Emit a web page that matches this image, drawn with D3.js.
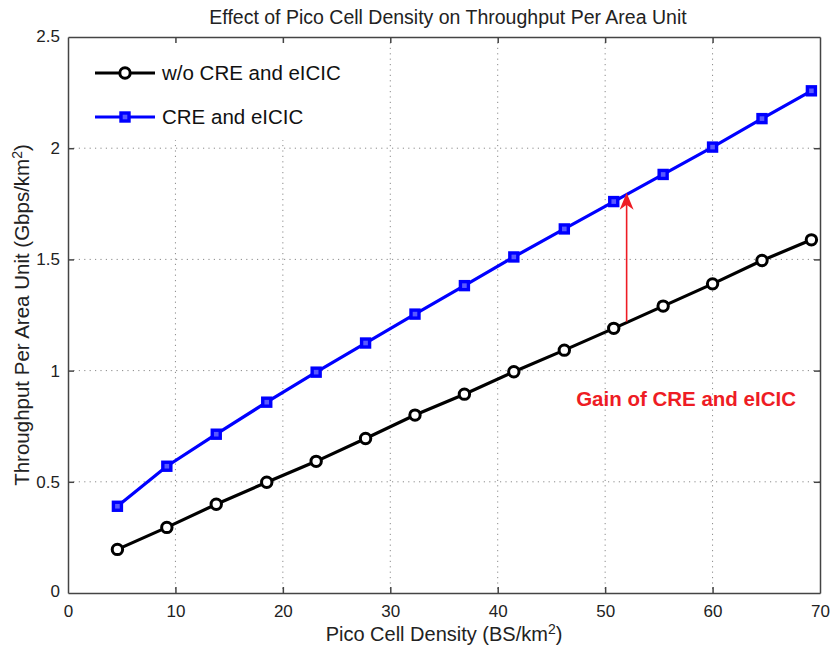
<!DOCTYPE html>
<html>
<head>
<meta charset="utf-8">
<script src="https://cdn.jsdelivr.net/npm/d3@7"></script>
<style>
  html, body { margin: 0; padding: 0; background: #fff; }
  svg { display: block; font-family: "Liberation Sans", Arial, Helvetica, sans-serif; }
</style>
</head>
<body>
<svg id="chart" width="831" height="662"></svg>
<script>
// ---- data ----
const density = [4.6, 9.2, 13.8, 18.5, 23.1, 27.7, 32.3, 36.9, 41.5, 46.2, 50.8, 55.4, 60.0, 64.6, 69.2];
const withoutCRE = [0.196, 0.295, 0.399, 0.498, 0.592, 0.695, 0.80, 0.894, 0.995, 1.092, 1.19, 1.29, 1.39, 1.495, 1.588];
const withCRE = [0.39, 0.57, 0.714, 0.858, 0.993, 1.124, 1.254, 1.382, 1.511, 1.637, 1.76, 1.882, 2.005, 2.133, 2.258];
const xTicks = [0, 10, 20, 30, 40, 50, 60, 70];
const yTicks = [0, 0.5, 1, 1.5, 2, 2.5];
const yTickLabels = ["0", "0.5", "1", "1.5", "2", "2.5"];
const seriesNames = ["w/o CRE and eICIC", "CRE and eICIC"];
const gainArrow = {x: 52, from: 1.22, to: 1.80};
const gainLabel = {x: 47.3, y: 0.84, text: "Gain of CRE and eICIC"};

// ---- layout ----
const W = 831, H = 662;
const m = {left: 68, right: 11, top: 37, bottom: 69};
const iw = W - m.left - m.right, ih = H - m.top - m.bottom;

const svg = d3.select("#chart");
const g = svg.append("g").attr("transform", `translate(${m.left},${m.top})`);

const x = d3.scaleLinear().domain([0, 70]).range([0, iw]);
const y = d3.scaleLinear().domain([0, 2.5]).range([ih, 0]);

// grid
const gridColor = "#8a8a8a";
g.append("g").selectAll("line").data(xTicks.filter(t => t > 0 && t < 70)).join("line")
  .attr("x1", d => x(d)).attr("x2", d => x(d)).attr("y1", 0).attr("y2", ih)
  .attr("stroke", gridColor).attr("stroke-width", 1).attr("stroke-dasharray", "1.2,4.2");
g.append("g").selectAll("line").data(yTicks.filter(t => t > 0 && t < 2.5)).join("line")
  .attr("y1", d => y(d)).attr("y2", d => y(d)).attr("x1", 0).attr("x2", iw)
  .attr("stroke", gridColor).attr("stroke-width", 1).attr("stroke-dasharray", "1.2,4.2");

// legend background (hides grid under legend)
g.append("rect").attr("x", 1).attr("y", 1).attr("width", 290).attr("height", 102).attr("fill", "#fff");

// axes
const axisColor = "#444";
const tickLen = 6;
const xAxis = g.append("g").attr("transform", `translate(0,${ih})`)
  .call(d3.axisBottom(x).tickValues(xTicks).tickFormat(d3.format("d")).tickSizeInner(-tickLen).tickSizeOuter(0).tickPadding(12));
const xAxisTop = g.append("g")
  .call(d3.axisTop(x).tickValues(xTicks).tickFormat("").tickSizeInner(-tickLen).tickSizeOuter(0));
const yAxis = g.append("g")
  .call(d3.axisLeft(y).tickValues(yTicks).tickFormat((d, i) => yTickLabels[i]).tickSizeInner(-tickLen).tickSizeOuter(0).tickPadding(8));
const yAxisRight = g.append("g").attr("transform", `translate(${iw},0)`)
  .call(d3.axisRight(y).tickValues(yTicks).tickFormat("").tickSizeInner(-tickLen).tickSizeOuter(0));

[xAxis, xAxisTop, yAxis, yAxisRight].forEach(a => {
  a.select(".domain").attr("stroke", axisColor).attr("stroke-width", 1.5);
  a.selectAll(".tick line").attr("stroke", axisColor).attr("stroke-width", 1.5);
  a.selectAll(".tick text").attr("fill", "#222").style("font-size", "17px").style("font-family", "'Liberation Sans', Arial, sans-serif");
});
xAxis.selectAll(".tick line").filter(d => d === 0 || d === 70).remove();
xAxisTop.selectAll(".tick line").filter(d => d === 0 || d === 70).remove();
yAxis.selectAll(".tick line").filter(d => d === 0 || d === 2.5).remove();
yAxisRight.selectAll(".tick line").filter(d => d === 0 || d === 2.5).remove();
yAxis.selectAll(".tick text").filter(d => d === 0).attr("dy", "0.2em");
yAxis.selectAll(".tick text").filter(d => d === 2.5).attr("dy", "0.25em");

// series
const line = d3.line().x((d, i) => x(density[i])).y(d => y(d));
g.append("path").datum(withoutCRE).attr("d", line).attr("fill", "none").attr("stroke", "#000").attr("stroke-width", 3.2);
g.append("path").datum(withCRE).attr("d", line).attr("fill", "none").attr("stroke", "#0000ff").attr("stroke-width", 3.2);

g.append("g").selectAll("circle").data(withoutCRE).join("circle")
  .attr("cx", (d, i) => x(density[i])).attr("cy", d => y(d)).attr("r", 5.2)
  .attr("fill", "#fff").attr("stroke", "#000").attr("stroke-width", 3);
const sq = 8;
g.append("g").selectAll("rect").data(withCRE).join("rect")
  .attr("x", (d, i) => x(density[i]) - sq / 2).attr("y", d => y(d) - sq / 2)
  .attr("width", sq).attr("height", sq)
  .attr("fill", "#5a5aff").attr("stroke", "#0000ff").attr("stroke-width", 3.4);

// gain arrow
const red = "#ee1c24";
const ax = x(gainArrow.x), ay0 = y(gainArrow.from), ay1 = y(gainArrow.to);
g.append("line").attr("x1", ax).attr("x2", ax).attr("y1", ay0).attr("y2", ay1 + 10)
  .attr("stroke", red).attr("stroke-width", 1.6);
g.append("path")
  .attr("d", `M${ax},${ay1} L${ax - 7},${ay1 + 17} L${ax},${ay1 + 12} L${ax + 7},${ay1 + 17} Z`)
  .attr("fill", red);
g.append("text").attr("x", x(gainLabel.x)).attr("y", y(gainLabel.y))
  .attr("fill", red).style("font-size", "20.5px").style("font-weight", "bold")
  .text(gainLabel.text);

// legend
const legend = g.append("g");
const legendRows = [
  {name: seriesNames[0], color: "#000", marker: "circle", ly: 36},
  {name: seriesNames[1], color: "#0000ff", marker: "square", ly: 80}
];
legendRows.forEach(r => {
  legend.append("line").attr("x1", 27).attr("x2", 87).attr("y1", r.ly).attr("y2", r.ly)
    .attr("stroke", r.color).attr("stroke-width", 3.2);
  if (r.marker === "circle") {
    legend.append("circle").attr("cx", 57).attr("cy", r.ly).attr("r", 5.2)
      .attr("fill", "#fff").attr("stroke", "#000").attr("stroke-width", 3);
  } else {
    legend.append("rect").attr("x", 57 - sq / 2).attr("y", r.ly - sq / 2).attr("width", sq).attr("height", sq)
      .attr("fill", "#5a5aff").attr("stroke", "#0000ff").attr("stroke-width", 3.4);
  }
  legend.append("text").attr("x", 94).attr("y", r.ly).attr("dy", "0.35em")
    .attr("fill", "#111").style("font-size", "20.5px").text(r.name);
});

// title
svg.append("text").attr("x", m.left + iw / 2 + 4).attr("y", 24).attr("text-anchor", "middle")
  .attr("fill", "#222").style("font-size", "19.5px").text("Effect of Pico Cell Density on Throughput Per Area Unit");

// x label
const xl = svg.append("text").attr("x", m.left + iw / 2).attr("y", 641).attr("text-anchor", "middle")
  .attr("fill", "#222").style("font-size", "20px");
xl.append("tspan").text("Pico Cell Density (BS/km");
xl.append("tspan").attr("dy", "-0.5em").style("font-size", "14px").text("2");
xl.append("tspan").attr("dy", "0.35em").text(")");

// y label
const yl = svg.append("text").attr("transform", `translate(29,${m.top + ih / 2}) rotate(-90)`)
  .attr("text-anchor", "middle").attr("fill", "#222").style("font-size", "20.5px");
yl.append("tspan").text("Throughput Per Area Unit (Gbps/km");
yl.append("tspan").attr("dy", "-0.5em").style("font-size", "14px").text("2");
yl.append("tspan").attr("dy", "0.35em").text(")");
</script>
</body>
</html>
